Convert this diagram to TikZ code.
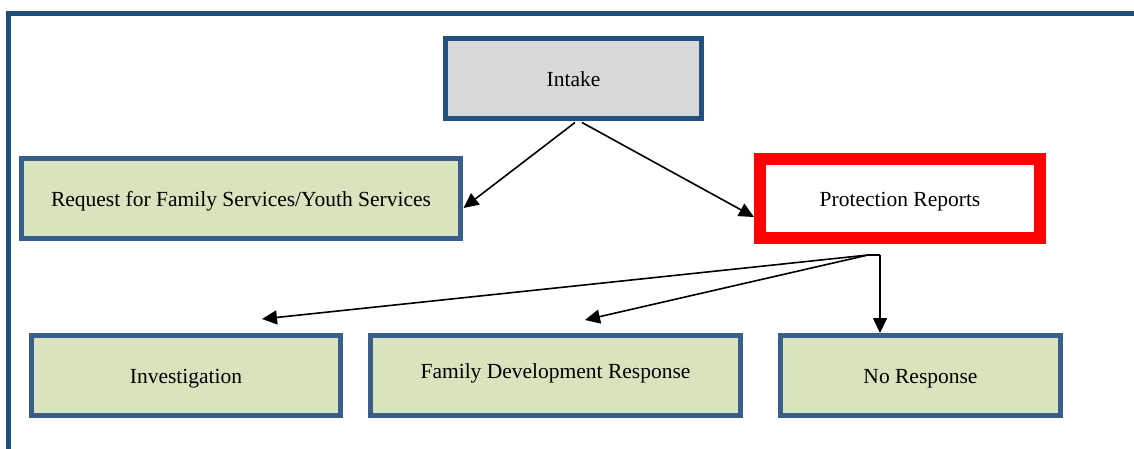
\documentclass[tikz,border=0pt]{standalone}
\usepackage{fontspec}
\setmainfont{Liberation Serif}
\usetikzlibrary{arrows.meta,calc}
\definecolor{frameblue}{HTML}{1F4E79}
\definecolor{intakeblue}{HTML}{24507D}
\definecolor{boxblue}{HTML}{3A5E8C}
\definecolor{intakegray}{HTML}{D9D9D9}
\definecolor{boxgreen}{HTML}{D7E4BD}
\definecolor{alertred}{HTML}{FF0000}
\begin{document}
\begin{tikzpicture}[x=1pt,y=-1pt,
  every node/.style={font=\fontsize{21.5}{26}\selectfont, inner sep=0pt, text height=16pt, text depth=0pt},
  stagebox/.style={draw=boxblue, fill=boxgreen, line width=5pt, minimum height=80pt},
  intakebox/.style={draw=intakeblue, fill=intakegray, line width=5pt, minimum height=80pt},
  alertbox/.style={draw=alertred, fill=white, line width=12pt, minimum height=79pt},
  flow/.style={line width=1.6pt, -{Triangle[length=15pt,width=14pt]}},
  link/.style={line width=1.6pt}]
\useasboundingbox (0,0) rectangle (1134,448);
\clip (0,0) rectangle (1134,448);
% outer frame
\draw[frameblue, line width=5pt] (8.5,470) -- (8.5,13.5) -- (1160,13.5);

% boxes
\node[intakebox, minimum width=256pt] (intake) at (573.5,78.5) {Intake};
\node[stagebox, minimum width=439pt] (request) at (241,198.5) {Request for Family Services/Youth Services};
\node[alertbox, minimum width=280pt] (protect) at (900,198.5) {Protection Reports};
\node[stagebox, minimum width=309pt] (invest) at (186,375.5) {Investigation};
\node[stagebox, minimum width=370pt, text depth=10pt] (fdr) at (555.5,375.5) {Family Development Response};
\node[stagebox, minimum width=280pt] (nores) at (920.5,375.5) {No Response};

% branch points
\coordinate (inA) at ($(intake.south)+(1.5,1.5)$);
\coordinate (inB) at ($(intake.south)+(8.5,1.5)$);
\coordinate (prA) at ($(protect.south)+(-32,11)$);
\coordinate (prB) at ($(protect.south)+(-20,11)$);

% connectors
\draw[flow] (inA) -- ($(request.east)+(0.5,9.5)$);
\draw[flow] (inB) -- ($(protect.west)+(0,18.5)$);
\draw[link] (prB) -- (prA);
\draw[flow] (prA) -- ($(invest.north)+(76,-14)$);
\draw[flow] (prA) -- ($(fdr.north)+(29.5,-13)$);
\draw[flow] (prB) -- (prB |- nores.north);
\end{tikzpicture}
\end{document}
